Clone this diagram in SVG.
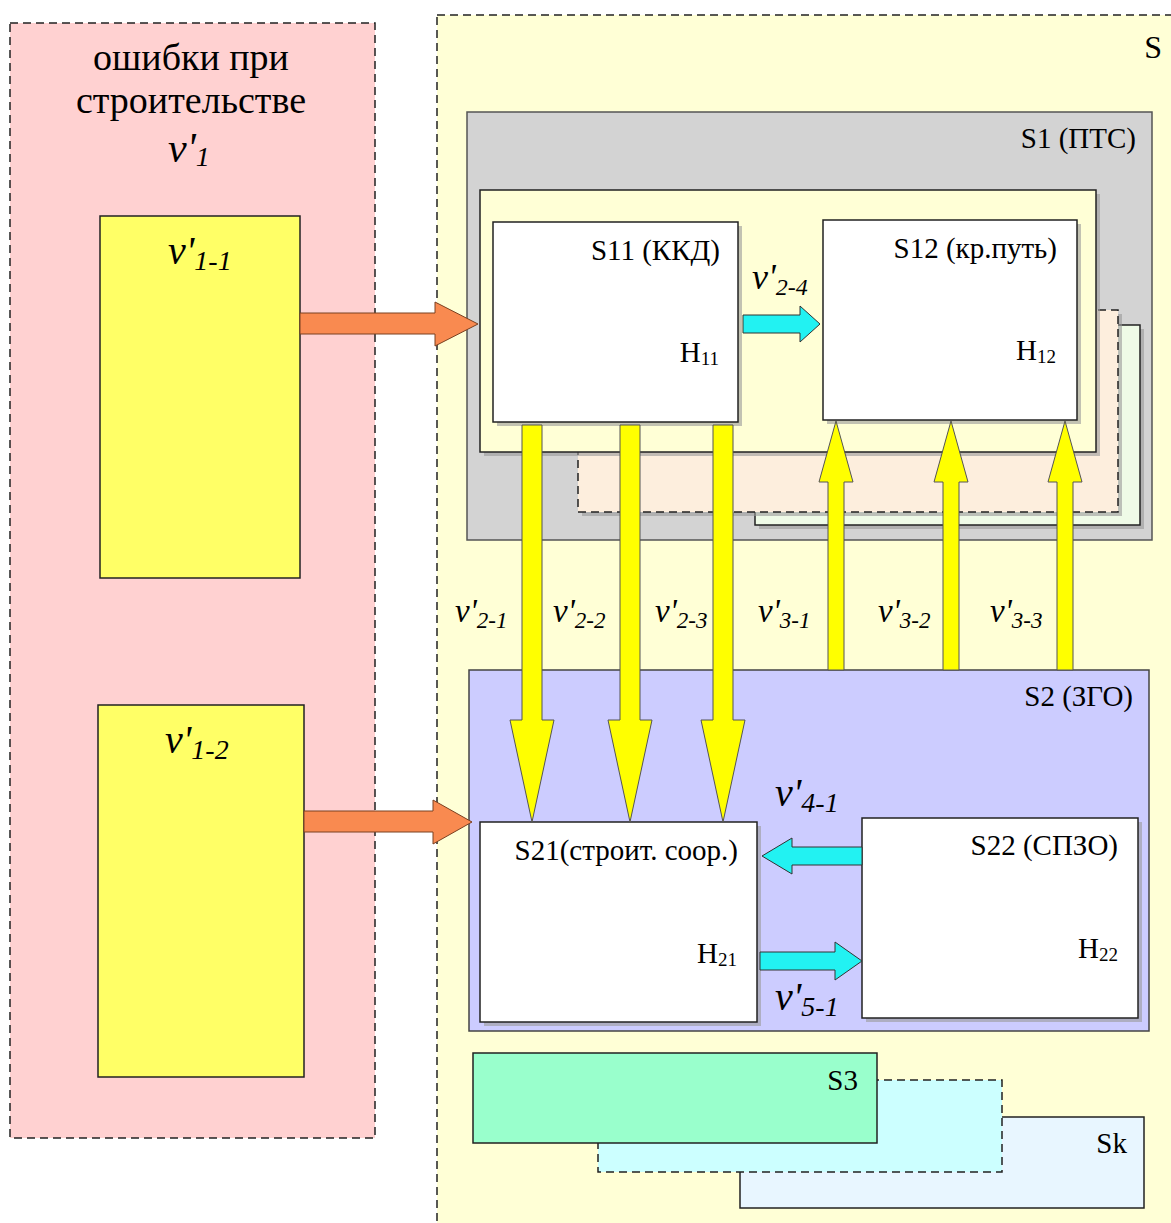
<svg xmlns="http://www.w3.org/2000/svg" width="1171" height="1223" viewBox="0 0 1171 1223">
<style>
text{font-family:"Liberation Serif","Times New Roman",serif;fill:#000}
.tr{font-size:29px;text-anchor:end}
.sub{font-size:19px}
.v{font-style:italic}
.box{stroke:#222;stroke-width:1.5}
.dash{stroke:#222;stroke-width:1.5;stroke-dasharray:8 5}
.sh{fill:#9a9a9a;opacity:0.6}
.yel{fill:#FFFF00;stroke:#555;stroke-width:1}
.cy{fill:#22F2F2;stroke:#333;stroke-width:1}
.or{fill:#F98A50;stroke:#7a4020;stroke-width:1}
</style>
<rect width="1171" height="1223" fill="#fff"/>

<g id="errors-panel">
<rect x="10" y="23" width="365" height="1115" fill="#FFD1D1" class="dash"/>
<text x="191" y="70" text-anchor="middle" style="font-size:38px">ошибки при</text>
<text x="191" y="113" text-anchor="middle" style="font-size:38px">строительстве</text>
<text x="168" y="162" class="v" style="font-size:42px">v'<tspan style="font-size:28px" dy="4">1</tspan></text>
</g>

<g id="v1-1">
<rect x="100" y="216" width="200" height="362" fill="#FFFF66" class="box"/>
<text x="168" y="264" class="v" style="font-size:40px">v'<tspan style="font-size:28px" dy="6">1-1</tspan></text>
</g>

<g id="v1-2">
<rect x="98" y="705" width="206" height="372" fill="#FFFF66" class="box"/>
<text x="165" y="753" class="v" style="font-size:40px">v'<tspan style="font-size:28px" dy="6">1-2</tspan></text>
</g>

<g id="S">
<rect x="437" y="15" width="740" height="1215" fill="#FFFFD6" class="dash"/>
<text x="1162" y="58" class="tr" style="font-size:32px">S</text>
</g>

<g id="S1">
<rect x="467" y="112" width="685" height="428" fill="#D3D3D3" stroke="#555" stroke-width="1.5"/>
<text x="1136" y="148" class="tr">S1 (ПТС)</text>
</g>

<g id="S1-layer3">
<rect x="759" y="329" width="385" height="200" class="sh"/>
<rect x="755" y="325" width="385" height="200" fill="#EFFBE7" class="box"/>
</g>

<g id="S1-layer2">
<rect x="582" y="314" width="540" height="202" class="sh"/>
<rect x="578" y="310" width="540" height="202" fill="#FDEEDD" class="dash"/>
</g>

<g id="S1-layer1">
<rect x="484" y="194" width="616" height="262" class="sh"/>
<rect x="480" y="190" width="616" height="262" fill="#FFFFD6" class="box"/>
</g>

<g id="S11">
<rect x="497" y="226" width="245" height="200" class="sh"/>
<rect x="493" y="222" width="245" height="200" fill="#fff" class="box"/>
<text x="720" y="260" class="tr">S11 (ККД)</text>
<text x="719" y="362" class="tr">Н<tspan class="sub" dy="3">11</tspan></text>
</g>

<g id="S12">
<rect x="827" y="224" width="254" height="200" class="sh"/>
<rect x="823" y="220" width="254" height="200" fill="#fff" class="box"/>
<text x="1057" y="258" class="tr">S12 (кр.путь)</text>
<text x="1056" y="360" class="tr">Н<tspan class="sub" dy="3">12</tspan></text>
</g>

<g id="S2">
<rect x="469" y="670" width="680" height="361" fill="#CCCCFF" stroke="#444" stroke-width="1.5"/>
<text x="1133" y="706" class="tr">S2 (ЗГО)</text>
</g>

<g id="S21">
<rect x="484" y="826" width="277" height="200" class="sh"/>
<rect x="480" y="822" width="277" height="200" fill="#fff" class="box"/>
<text x="738" y="860" class="tr">S21(строит. соор.)</text>
<text x="737" y="963" class="tr">Н<tspan class="sub" dy="3">21</tspan></text>
</g>

<g id="S22">
<rect x="866" y="822" width="276" height="200" class="sh"/>
<rect x="862" y="818" width="276" height="200" fill="#fff" class="box"/>
<text x="1118" y="855" class="tr">S22 (СПЗО)</text>
<text x="1118" y="958" class="tr">Н<tspan class="sub" dy="3">22</tspan></text>
</g>

<g id="Sk">
<rect x="740" y="1117" width="404" height="91" fill="#E8F6FF" class="box"/>
<text x="1127" y="1153" class="tr">Sk</text>
</g>

<g id="Sdots">
<rect x="598" y="1080" width="404" height="92" fill="#CCFFFF" class="dash"/>
</g>

<g id="S3">
<rect x="473" y="1053" width="404" height="90" fill="#99FFCC" class="box"/>
<text x="858" y="1090" class="tr">S3</text>
</g>

<g id="connectors">
<path class="or" d="M300,313 H435 V302 L478,324 L435,346 V334 H300 Z"/>
<path class="or" d="M304,811 H433 V800 L472,822 L433,844 V832 H304 Z"/>
<path class="cy" d="M743,315 H800 V306 L820,324 L800,342 V333 H743 Z"/>
<path class="yel" d="M522,425 H542 V720 H554 L532,822 L510,720 H522 Z"/>
<path class="yel" d="M620,425 H640 V720 H652 L630,822 L608,720 H620 Z"/>
<path class="yel" d="M713,425 H733 V720 H745 L723,822 L701,720 H713 Z"/>
<path class="yel" d="M828,670 V482 H819 L836,421 L853,482 H844 V670 Z"/>
<path class="yel" d="M943,670 V482 H934 L951,421 L968,482 H959 V670 Z"/>
<path class="yel" d="M1057,670 V482 H1048 L1065,421 L1082,482 H1073 V670 Z"/>
<path class="cy" d="M862,847 H792 V838 L762,856 L792,874 V865 H862 Z"/>
<path class="cy" d="M760,952 H835 V942 L862,961 L835,980 V970 H760 Z"/>
</g>

<g id="labels">
<text x="752" y="289" class="v" style="font-size:36px">v'<tspan style="font-size:24px" dy="6">2-4</tspan></text>
<text x="455" y="622" class="v" style="font-size:33px">v'<tspan style="font-size:23px" dy="6">2-1</tspan></text>
<text x="553" y="622" class="v" style="font-size:33px">v'<tspan style="font-size:23px" dy="6">2-2</tspan></text>
<text x="655" y="622" class="v" style="font-size:33px">v'<tspan style="font-size:23px" dy="6">2-3</tspan></text>
<text x="758" y="622" class="v" style="font-size:33px">v'<tspan style="font-size:23px" dy="6">3-1</tspan></text>
<text x="878" y="622" class="v" style="font-size:33px">v'<tspan style="font-size:23px" dy="6">3-2</tspan></text>
<text x="990" y="622" class="v" style="font-size:33px">v'<tspan style="font-size:23px" dy="6">3-3</tspan></text>
<text x="775" y="806" class="v" style="font-size:40px">v'<tspan style="font-size:28px" dy="6">4-1</tspan></text>
<text x="775" y="1010" class="v" style="font-size:40px">v'<tspan style="font-size:28px" dy="6">5-1</tspan></text>
</g>
</svg>
